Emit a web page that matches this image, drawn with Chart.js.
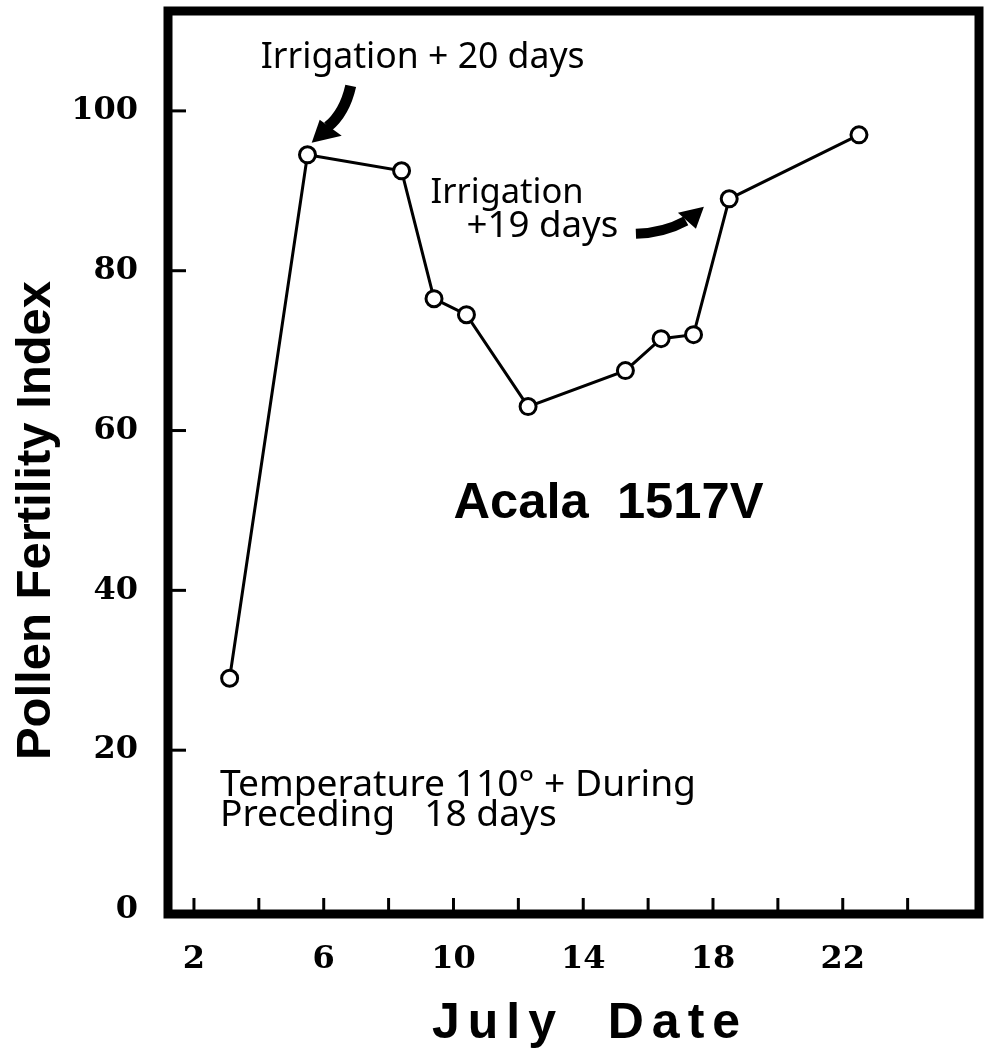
<!DOCTYPE html>
<html>
<head>
<meta charset="utf-8">
<script src="https://cdn.jsdelivr.net/npm/chart.js@4.4.1/dist/chart.umd.min.js"></script>
<style>
  html, body { margin: 0; padding: 0; background: #fff; }
</style>
</head>
<body>
<canvas id="chart" width="990" height="1058"></canvas>
<script>
// values
const julyDates = [3.1, 5.5, 8.4, 9.4, 10.4, 12.3, 15.3, 16.4, 17.4, 18.5, 22.5];
const fertility = [29, 94.5, 92.5, 76.5, 74.5, 63, 67.5, 71.5, 72, 89, 97];

const xTickLabels = [2, 6, 10, 14, 18, 22];
const xTickMarks = [2, 4, 6, 8, 10, 12, 14, 16, 18, 20, 22, 24];
const yTickLabels = [0, 20, 40, 60, 80, 100];
const yTickMarks = [20, 40, 60, 80, 100];

const yTitle = 'Pollen Fertility Index';
const xTitle = 'July  Date';

// text notes, placed in data units (left edge, baseline)
// width = fit the text to that many px; no width = keep the previous font
const notes = [
    { text: 'Irrigation + 20 days', x: 4.06, y: 105.4, width: 324, weight: '400', family: 'Noto Sans' },
    { text: 'Irrigation', x: 9.29, y: 88.5, width: 153, weight: '400', family: 'Noto Sans' },
    { text: '+19 days', x: 10.4, y: 84.25, width: 152, weight: '400', family: 'Noto Sans' },
    { text: 'Acala  1517V', x: 10.0, y: 49, width: 310, weight: 'bold', family: 'Liberation Sans' },
    { text: 'Temperature 110° + During', x: 2.8, y: 14.25, width: 476, weight: '400', family: 'Noto Sans' },
    { text: 'Preceding   18 days', x: 2.8, y: 10.5 },
];

// arrows: tip in data units, shape in pixel offsets from the tip
const arrows = [
    { x: 5.63, y: 96, shaft: [[39, -57], [33, -30], [16, -16]], head: [[8, -23], [30, -7]], width: 11 },
    { x: 17.72, y: 88, shaft: [[-68, 27], [-40, 26], [-18, 14]], head: [[-26, 6], [-8, 22]], width: 10 },
];

const fitFont = (ctx, note) => {
    if (!note.width) return;
    ctx.font = `${note.weight} 40px "${note.family}"`;
    const w = ctx.measureText(note.text).width;
    const size = 40 * note.width / w;
    ctx.font = `${note.weight} ${size.toFixed(1)}px "${note.family}"`;
};

const paperPlugin = {
    id: 'paper',
    afterDraw(chart) {
        const { ctx, chartArea: a, scales: { x, y } } = chart;
        ctx.save();
        ctx.strokeStyle = '#000';
        ctx.fillStyle = '#000';

        // inward tick marks
        ctx.lineWidth = 3;
        xTickMarks.forEach((v) => {
            const px = x.getPixelForValue(v);
            ctx.beginPath();
            ctx.moveTo(px, a.bottom);
            ctx.lineTo(px, a.bottom - 16);
            ctx.stroke();
        });
        yTickMarks.forEach((v) => {
            const py = y.getPixelForValue(v);
            ctx.beginPath();
            ctx.moveTo(a.left, py);
            ctx.lineTo(a.left + 18, py);
            ctx.stroke();
        });

        // heavy frame
        ctx.lineWidth = 9;
        ctx.strokeRect(a.left, a.top, a.right - a.left, a.bottom - a.top);

        // notes
        ctx.textAlign = 'left';
        ctx.textBaseline = 'alphabetic';
        notes.forEach((n) => {
            fitFont(ctx, n);
            ctx.fillText(n.text, x.getPixelForValue(n.x), y.getPixelForValue(n.y));
        });

        // arrows
        arrows.forEach((ar) => {
            const tx = x.getPixelForValue(ar.x);
            const ty = y.getPixelForValue(ar.y);
            const [s, c, e] = ar.shaft;
            ctx.lineWidth = ar.width;
            ctx.lineCap = 'butt';
            ctx.beginPath();
            ctx.moveTo(tx + s[0], ty + s[1]);
            ctx.quadraticCurveTo(tx + c[0], ty + c[1], tx + e[0], ty + e[1]);
            ctx.stroke();
            ctx.beginPath();
            ctx.moveTo(tx, ty);
            ctx.lineTo(tx + ar.head[0][0], ty + ar.head[0][1]);
            ctx.lineTo(tx + ar.head[1][0], ty + ar.head[1][1]);
            ctx.closePath();
            ctx.fill();
        });

        // axis titles
        ctx.font = 'bold 49px "Liberation Sans"';
        ctx.textAlign = 'center';
        ctx.save();
        ctx.translate(50, (a.top + a.bottom) / 2 + 58);
        ctx.rotate(-Math.PI / 2);
        ctx.fillText(yTitle, 0, 0);
        ctx.restore();

        ctx.font = 'bold 50px "Liberation Sans"';
        ctx.letterSpacing = '8px';
        ctx.fillText(xTitle, 590, 1038);
        ctx.restore();
    },
};

new Chart(document.getElementById('chart'), {
    type: 'line',
    data: {
        datasets: [{
            data: julyDates.map((d, i) => ({ x: d, y: fertility[i] })),
            borderColor: '#000',
            borderWidth: 3,
            tension: 0,
            pointRadius: 8,
            pointBorderWidth: 3,
            pointBackgroundColor: '#fff',
            pointBorderColor: '#000',
        }],
    },
    options: {
        responsive: false,
        animation: false,
        devicePixelRatio: 1,
        layout: { padding: { top: 10, right: 7, left: 0, bottom: 0 } },
        plugins: { legend: { display: false }, tooltip: { enabled: false } },
        scales: {
            x: {
                type: 'linear',
                min: 1.2,
                max: 26.2,
                afterFit: (s) => { s.height = 144; s.paddingLeft = 0; s.paddingRight = 0; },
                afterBuildTicks: (s) => { s.ticks = xTickLabels.map((v) => ({ value: v })); },
                grid: { drawOnChartArea: false, drawTicks: false },
                border: { display: false },
                ticks: {
                    color: '#000',
                    padding: 26,
                    maxRotation: 0,
                    autoSkip: false,
                    font: { family: 'DejaVu Serif', weight: 'bold', size: 32 },
                },
            },
            y: {
                min: -0.5,
                max: 112.5,
                afterFit: (s) => { s.width = 168; s.paddingTop = 0; s.paddingBottom = 0; },
                afterBuildTicks: (s) => { s.ticks = yTickLabels.map((v) => ({ value: v })); },
                grid: { drawOnChartArea: false, drawTicks: false },
                border: { display: false },
                ticks: {
                    color: '#000',
                    padding: 30,
                    autoSkip: false,
                    font: { family: 'DejaVu Serif', weight: 'bold', size: 32 },
                },
            },
        },
    },
    plugins: [paperPlugin],
});
</script>
</body>
</html>
